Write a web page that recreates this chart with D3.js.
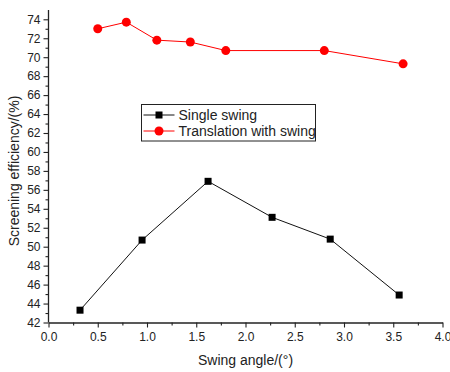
<!DOCTYPE html>
<html>
<head>
<meta charset="utf-8">
<script src="https://cdn.jsdelivr.net/npm/d3@7"></script>
<style>
  html, body { margin: 0; padding: 0; background: #fff; }
  svg text { font-family: "Liberation Sans", Arial, sans-serif; fill: #222; }
</style>
</head>
<body>
<svg id="chart" width="450" height="372"></svg>
<script>
// Swing angle (°) and screening efficiency (%) for the two screening modes
const singleAngle = [0.32, 0.95, 1.62, 2.27, 2.86, 3.56];
const singleEff   = [43.3, 50.7, 56.9, 53.1, 50.8, 44.9];
const transAngle  = [0.50, 0.79, 1.10, 1.44, 1.80, 2.80, 3.60];
const transEff    = [73.0, 73.7, 71.8, 71.6, 70.7, 70.7, 69.3];
const seriesNames = ["Single swing", "Translation with swing"];
const xTicks = [0, 0.5, 1, 1.5, 2, 2.5, 3, 3.5, 4];
const yTicks = [42, 44, 46, 48, 50, 52, 54, 56, 58, 60, 62, 64, 66, 68, 70, 72, 74];

const svg = d3.select("#chart");
const plotLeft = 48.5, plotRight = 442.5, plotTop = 10, plotBottom = 322.5;

const x = d3.scaleLinear().domain([0, 4]).range([plotLeft, plotRight]);
const y = d3.scaleLinear().domain([42, 74]).range([plotBottom, 19.3]);

// Axes: bottom and left only, with outward major and minor ticks
const xAxis = svg.append("g").attr("transform", `translate(0,${plotBottom})`);
xAxis.call(d3.axisBottom(x).tickValues(xTicks).tickFormat(d3.format(".1f")).tickSizeInner(5).tickSizeOuter(0).tickPadding(5));
xAxis.append("g").call(d3.axisBottom(x).tickValues(xTicks.slice(0, -1).map(v => v + 0.25)).tickFormat("").tickSizeInner(3).tickSizeOuter(0))
  .select(".domain").remove();
xAxis.selectAll("text").attr("font-size", 12);

const yAxis = svg.append("g").attr("transform", `translate(${plotLeft},0)`);
yAxis.call(d3.axisLeft(y).tickValues(yTicks).tickSizeInner(5).tickSizeOuter(0).tickPadding(3));
yAxis.append("g").call(d3.axisLeft(y).tickValues(d3.range(43, 75, 2)).tickFormat("").tickSizeInner(3).tickSizeOuter(0))
  .select(".domain").remove();
yAxis.selectAll("text").attr("font-size", 12);
// extend the y axis line slightly above the top tick
yAxis.select(".domain").attr("d", `M0,${plotBottom}V${plotTop}`);
svg.selectAll(".domain").attr("stroke", "#222").attr("stroke-width", 1.3);
svg.selectAll(".tick line").attr("stroke", "#222").attr("stroke-width", 1.1);

// Axis titles
svg.append("text").attr("x", (plotLeft + plotRight) / 2).attr("y", 365)
  .attr("text-anchor", "middle").attr("font-size", 14).text("Swing angle/(°)");
svg.append("text").attr("transform", "translate(19,171) rotate(-90)")
  .attr("text-anchor", "middle").attr("font-size", 14).text("Screening efficiency/(%)");

const line = d3.line().x(d => x(d[0])).y(d => y(d[1]));
const single = singleAngle.map((a, i) => [a, singleEff[i]]);
const trans = transAngle.map((a, i) => [a, transEff[i]]);

// Single swing: black line with square markers
svg.append("path").datum(single).attr("d", line)
  .attr("fill", "none").attr("stroke", "#111").attr("stroke-width", 1);
svg.selectAll(".sq").data(single).enter().append("rect")
  .attr("x", d => x(d[0]) - 3.5).attr("y", d => y(d[1]) - 3.5)
  .attr("width", 7).attr("height", 7).attr("fill", "#000");

// Translation with swing: red line with circle markers
svg.append("path").datum(trans).attr("d", line)
  .attr("fill", "none").attr("stroke", "#ff0000").attr("stroke-width", 1);
svg.selectAll(".ci").data(trans).enter().append("circle")
  .attr("cx", d => x(d[0])).attr("cy", d => y(d[1]))
  .attr("r", 4.5).attr("fill", "#ff0000");

// Legend
const lg = svg.append("g").attr("transform", "translate(141.5,104.5)");
lg.append("rect").attr("width", 174).attr("height", 36.5)
  .attr("fill", "#fff").attr("stroke", "#222").attr("stroke-width", 1);
const items = [{ c: "#111", shape: "sq" }, { c: "#ff0000", shape: "ci" }];
items.forEach((it, i) => {
  const cy = 10.5 + i * 16;
  lg.append("line").attr("x1", 2).attr("x2", 33).attr("y1", cy).attr("y2", cy)
    .attr("stroke", it.c).attr("stroke-width", 1);
  if (it.shape === "sq") {
    lg.append("rect").attr("x", 17.5 - 3.5).attr("y", cy - 3.5).attr("width", 7).attr("height", 7).attr("fill", "#000");
  } else {
    lg.append("circle").attr("cx", 17.5).attr("cy", cy).attr("r", 4.5).attr("fill", "#ff0000");
  }
  lg.append("text").attr("x", 37).attr("y", cy + 5).attr("font-size", 14).text(seriesNames[i]);
});
</script>
</body>
</html>
